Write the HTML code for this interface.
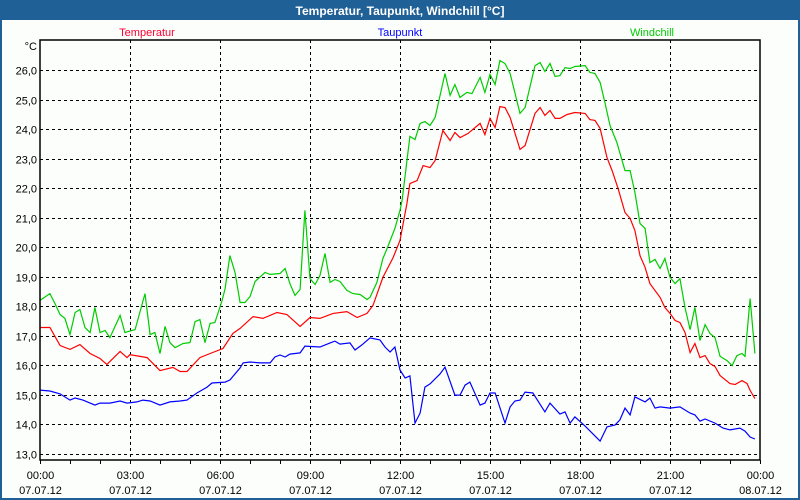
<!DOCTYPE html>
<html><head><meta charset="utf-8"><style>
body{margin:0;width:800px;height:500px;overflow:hidden;background:#fcfefc;font-family:"Liberation Sans",sans-serif}
</style></head><body>
<svg id="chart" width="800" height="500" xmlns="http://www.w3.org/2000/svg" style="display:block">
<rect x="1" y="1" width="798" height="498" fill="#fcfefc" stroke="#1f6096" stroke-width="2"/>
<rect x="0" y="0" width="800" height="20" fill="#1f6096"/>
<text x="400" y="15" text-anchor="middle" font-size="12" font-weight="bold" fill="#fff">Temperatur, Taupunkt, Windchill [°C]</text>
<text x="147" y="36" text-anchor="middle" font-size="11" fill="#ff0033">Temperatur</text>
<text x="400" y="36" text-anchor="middle" font-size="11" fill="#0000ff">Taupunkt</text>
<text x="652" y="36" text-anchor="middle" font-size="11" fill="#00cc00">Windchill</text>
<text x="37" y="50" text-anchor="end" font-size="11" fill="#000">°C</text>
<g id="grid"></g><g id="series"></g><g id="labels"></g>
<rect x="40" y="40" width="720" height="420" fill="none" stroke="#000" stroke-width="1.5"/>
</svg>
<script>
const yTicks=[13,14,15,16,17,18,19,20,21,22,23,24,25,26];
const xTickHours=[0,3,6,9,12,15,18,21,24];
const xTickTimes=["00:00","03:00","06:00","09:00","12:00","15:00","18:00","21:00","00:00"];
const xTickDates=["07.07.12","07.07.12","07.07.12","07.07.12","07.07.12","07.07.12","07.07.12","07.07.12","08.07.12"];
const tempHours=[0,.33,.67,1,1.33,1.67,2,2.23,2.67,2.9,3,3.57,4,4.43,4.67,4.9,5.33,5.67,6.1,6.43,6.67,7.1,7.43,7.9,8.23,8.67,9,9.33,9.77,10.23,10.57,10.9,11.1,11.43,11.77,12,12.23,12.33,12.57,12.77,13,13.17,13.43,13.67,13.83,14,14.27,14.67,14.83,15,15.17,15.33,15.5,15.67,16,16.17,16.5,16.67,16.83,17,17.17,17.33,17.57,17.83,18.17,18.33,18.5,18.67,18.9,19.07,19.27,19.5,19.67,19.83,20,20.17,20.33,20.67,20.83,21,21.17,21.33,21.5,21.67,21.83,22,22.17,22.33,22.5,22.67,23,23.17,23.4,23.57,23.67,23.83];
const tempValues=[17.27,17.27,16.66,16.53,16.69,16.39,16.22,16.02,16.46,16.25,16.35,16.25,15.81,15.92,15.78,15.78,16.25,16.39,16.56,17.07,17.24,17.64,17.58,17.78,17.71,17.31,17.61,17.58,17.75,17.81,17.61,17.75,18.02,18.97,19.64,20.22,21.47,22.15,22.25,22.76,22.69,22.93,23.95,23.61,23.88,23.71,23.85,24.19,23.81,24.36,24.05,24.76,24.73,24.39,23.31,23.44,24.53,24.73,24.46,24.63,24.36,24.36,24.49,24.56,24.53,24.32,24.29,24.02,23.03,22.59,21.98,21.17,20.97,20.56,19.71,19.31,18.76,18.29,17.95,17.75,17.51,17.44,17.10,16.42,16.73,16.25,16.32,16.05,15.95,15.64,15.37,15.34,15.47,15.37,15.14,14.86];
const dewHours=[0,.33,.67,1,1.17,1.43,1.83,2,2.33,2.67,2.9,3.23,3.43,3.67,4,4.33,4.67,4.9,5.23,5.57,5.73,6.17,6.33,6.67,6.77,7,7.33,7.67,7.83,8,8.17,8.33,8.67,8.83,9.33,9.67,9.83,10,10.33,10.5,10.73,11,11.33,11.5,11.67,11.83,12,12.17,12.33,12.5,12.67,12.83,13,13.33,13.5,13.83,14,14.17,14.33,14.67,14.83,15,15.17,15.5,15.67,15.83,16,16.17,16.43,16.83,17,17.33,17.5,17.67,17.83,18.17,18.67,18.9,19.17,19.33,19.5,19.67,19.83,20.17,20.33,20.5,20.67,21,21.33,21.67,21.83,22,22.17,22.5,22.77,23,23.33,23.5,23.67,23.83];
const dewValues=[15.15,15.12,15.02,14.81,14.88,14.81,14.64,14.71,14.71,14.78,14.71,14.75,14.81,14.78,14.64,14.75,14.78,14.81,15.05,15.25,15.39,15.42,15.49,15.90,16.07,16.10,16.07,16.07,16.27,16.34,16.27,16.37,16.41,16.64,16.61,16.75,16.81,16.71,16.75,16.51,16.68,16.92,16.85,16.61,16.44,16.61,15.83,15.56,15.63,14.03,14.37,15.25,15.36,15.69,15.93,14.98,14.98,15.32,15.42,14.64,14.71,15.05,15.05,14.03,14.58,14.78,14.81,15.08,15.05,14.41,14.71,14.34,14.41,14.03,14.24,13.93,13.42,13.90,13.97,14.14,14.54,14.31,14.92,14.75,14.88,14.54,14.58,14.54,14.58,14.37,14.31,14.10,14.17,14.03,13.86,13.80,13.86,13.76,13.56,13.49];
const windHours=[0,.33,.5,.67,.83,1,1.17,1.33,1.5,1.67,1.83,2,2.17,2.33,2.67,2.83,3.17,3.5,3.67,3.83,4,4.17,4.33,4.5,4.77,5,5.17,5.33,5.5,5.67,5.83,6.07,6.17,6.33,6.5,6.67,6.83,7,7.17,7.5,7.67,8,8.17,8.33,8.5,8.67,8.83,9,9.17,9.33,9.5,9.67,9.83,10,10.23,10.43,10.67,10.9,11,11.23,11.43,11.57,11.83,12,12.07,12.33,12.5,12.67,12.83,13,13.17,13.5,13.67,13.83,14,14.23,14.4,14.67,14.83,15,15.17,15.33,15.5,15.67,16,16.17,16.5,16.67,16.83,17,17.17,17.33,17.5,17.67,17.83,18.17,18.33,18.5,18.67,18.83,19,19.23,19.5,19.67,19.83,20,20.17,20.33,20.5,20.67,20.83,21,21.17,21.33,21.5,21.67,21.83,22,22.17,22.33,22.5,22.67,22.9,23.07,23.23,23.4,23.5,23.67,23.77,23.83];
const windValues=[18.19,18.42,18.08,17.71,17.58,17.03,17.78,17.88,17.27,17.10,17.95,17.10,17.17,16.93,17.68,17.10,17.20,18.42,17.03,17.10,16.39,17.31,16.76,16.59,16.73,16.76,17.47,17.54,16.76,17.41,17.44,18.19,18.59,19.71,19.14,18.12,18.12,18.32,18.83,19.14,19.07,19.10,19.27,18.76,18.36,18.56,21.24,18.93,18.73,19.03,19.78,18.80,18.90,18.83,18.53,18.42,18.39,18.22,18.29,18.80,19.61,19.95,20.63,21.24,21.58,23.75,23.64,24.19,24.25,24.12,24.39,25.88,25.14,25.51,25.07,25.24,25.20,25.75,25.24,25.85,25.51,26.32,26.22,25.88,24.53,24.73,26.15,26.25,25.95,26.22,25.78,25.81,26.08,26.05,26.12,26.15,25.92,25.88,25.58,24.90,24.12,23.54,22.59,22.59,21.85,20.80,20.63,19.47,19.58,19.27,19.61,18.97,18.76,18.93,17.95,17.20,17.95,16.83,17.37,17.07,16.93,16.29,16.15,15.98,16.32,16.39,16.29,18.25,17.10,16.39];

const NS="http://www.w3.org/2000/svg";
const X0=40,PXH=30,Y13=453.5,PXD=29.5;
function xs(h){return X0+h*PXH;}
function ys(v){return Y13-(v-13)*PXD;}
function mk(tag,attrs,parent){const e=document.createElementNS(NS,tag);for(const k in attrs)e.setAttribute(k,attrs[k]);parent.appendChild(e);return e;}
const grid=document.getElementById('grid'),labels=document.getElementById('labels'),series=document.getElementById('series');
yTicks.forEach(v=>{
  const y=Math.round(ys(v))+0.5;
  const l=mk('line',{x1:40,x2:760,y1:y,y2:y,stroke:'#000','stroke-dasharray':'3,3','stroke-width':1},grid);
  
  
  const t=mk('text',{x:37,y:y+4,'text-anchor':'end','font-size':11,fill:'#000'},labels);
  
  
  t.textContent=v.toFixed(1).replace('.',',');
});
for(let h=0;h<=24;h++){
  const x=Math.round(xs(h))+0.5;
  const tk=mk('line',{x1:x,x2:x,y1:460,y2:464,stroke:'#000'},grid);
  
  
}
xTickHours.forEach((h,i)=>{
  const x=Math.round(xs(h))+0.5;
  if(h>0&&h<24){
    const l=mk('line',{x1:x,x2:x,y1:40,y2:460,stroke:'#000','stroke-dasharray':'3,3'},grid);
    
    
  }
  const t1=mk('text',{x:x,y:479,'text-anchor':'middle','font-size':11,fill:'#000'},labels);
  
  
  t1.textContent=xTickTimes[i];
  const t2=mk('text',{x:x,y:494,'text-anchor':'middle','font-size':11,fill:'#000'},labels);
  
  
  t2.textContent=xTickDates[i];
});
function line(hours,vals,color,name){
  const p=mk('polyline',{points:hours.map((h,i)=>xs(h).toFixed(1)+','+ys(vals[i]).toFixed(1)).join(' '),fill:'none',stroke:color,'stroke-width':1.2},series);
  
  
}
line(windHours,windValues,'#00cc00','windchill-line');
line(tempHours,tempValues,'#ff0000','temperatur-line');
line(dewHours,dewValues,'#0000ff','taupunkt-line');
</script>
</body></html>
